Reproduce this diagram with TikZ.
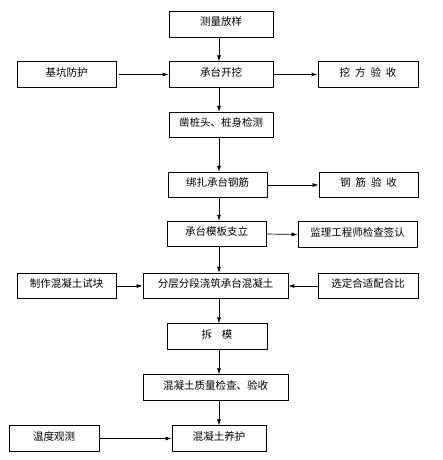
\documentclass[tikz,border=0pt]{standalone}
\usepackage{fontspec}
\setmainfont{Noto Sans CJK SC}
\usetikzlibrary{arrows.meta}
\newcommand\gp{\hspace{5pt}}
\begin{document}
\begin{tikzpicture}[x=1pt,y=-1pt,
  box/.style={draw, line width=0.8pt, inner sep=0pt, minimum height=25.5pt,
    font=\fontsize{10.5}{12}\selectfont, text height=3pt, text depth=0pt},
  arr/.style={-{Latex[length=6pt,width=4pt]}, line width=0.7pt}]
\useasboundingbox (0,0) rectangle (443,460);
\coordinate (sp) at (219,0);
\node[box, minimum width=104pt] (a) at (221,24.5) {测量放样};
\node[box, minimum width=99pt]  (b) at (66.5,74.5) {基坑防护};
\node[box, minimum width=104pt] (c) at (221,74.5) {承台开挖};
\node[box, minimum width=100pt] (d) at (368,74.5) {挖\gp 方\gp 验\gp 收};
\node[box, minimum width=104pt] (e) at (221,125) {凿桩头、桩身检测};
\node[box, minimum width=99pt]  (f) at (217.5,185) {绑扎承台钢筋};
\node[box, minimum width=99pt]  (g) at (368.5,185) {钢\gp 筋\gp 验\gp 收};
\node[box, minimum width=99pt]  (h) at (216.5,234) {承台模板支立};
\node[box, minimum width=119pt] (i) at (357.5,234.5) {监理工程师检查签认};
\node[box, minimum width=99pt]  (j) at (66.5,286) {制作混凝土试块};
\node[box, minimum width=145pt] (k) at (215.5,286) {分层分段浇筑承台混凝土};
\node[box, minimum width=100pt] (l) at (368,286) {选定合适配合比};
\node[box, minimum width=100pt] (m) at (217,336.5) {拆\hspace{10pt}模};
\node[box, minimum width=145pt] (n) at (215.5,387.5) {混凝土质量检查、验收};
\node[box, minimum width=90pt]  (o) at (54,438.5) {温度观测};
\node[box, minimum width=94pt]  (p) at (219,438.5) {混凝土养护};
% spine
\draw[arr] (a.south -| sp) -- (c.north -| sp);
\draw[arr] (c.south -| sp) -- (e.north -| sp);
\draw[arr] (e.south -| sp) -- (f.north -| sp);
\draw[arr] (f.south -| sp) -- (h.north -| sp);
\draw[arr] (h.south -| sp) -- (k.north -| sp);
\draw[arr] (k.south -| sp) -- (m.north -| sp);
\draw[arr] (m.south -| sp) -- (n.north -| sp);
\draw[arr] (n.south -| sp) -- (p.north -| sp);
% side arrows
\draw[arr] (b.east) ++(3,0) -- (c.west);
\draw[arr] (c.east) -- (d.west);
\draw[arr] (f.east) -- (g.west);
\draw[arr] (h.east) -- (i.west);
\draw[arr] (j.east) -- (k.west);
\draw[arr] (l.west) -- (k.east);
\draw[arr] (o.east) -- (p.west);
\end{tikzpicture}
\end{document}
